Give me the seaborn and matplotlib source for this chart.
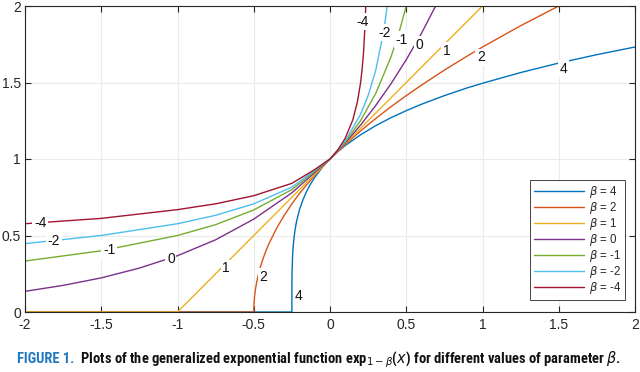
import matplotlib
matplotlib.use("Agg")
import matplotlib.pyplot as plt
from matplotlib import font_manager as fm
import numpy as np
import pandas as pd
import seaborn as sns

# ---------------- data ----------------
betas = [4, 2, 1, 0, -1, -2, -4]

x_b4 = [-2.0, -0.25, -0.25, -0.2499, -0.249, -0.245, -0.24, -0.23, -0.22, -0.2, -0.175, -0.15, -0.125,
        -0.1, -0.05, 0.0, 0.05, 0.1, 0.2, 0.3, 0.4, 0.5, 0.6, 0.75, 0.9, 1.0, 1.25, 1.5, 1.75, 2.0]
y_b4 = [0.0, 0.0, 0.0, 0.141, 0.251, 0.376, 0.447, 0.532, 0.589, 0.669, 0.740, 0.795, 0.841,
        0.880, 0.946, 1.0, 1.047, 1.088, 1.158, 1.218, 1.270, 1.316, 1.358, 1.414, 1.465, 1.495, 1.565, 1.627, 1.682, 1.732]

x_b2 = [-2.0, -0.5, -0.499, -0.495, -0.49, -0.48, -0.46, -0.44, -0.42, -0.4, -0.35, -0.3, -0.25, -0.2,
        -0.1, 0.0, 0.1, 0.2, 0.3, 0.4, 0.5, 0.6, 0.75, 0.9, 1.0, 1.25, 1.5, 1.75, 2.0]
y_b2 = [0.0, 0.0, 0.045, 0.100, 0.141, 0.200, 0.283, 0.346, 0.400, 0.447, 0.548, 0.632, 0.707, 0.775,
        0.894, 1.0, 1.095, 1.183, 1.265, 1.342, 1.414, 1.483, 1.581, 1.673, 1.732, 1.871, 2.0, 2.121, 2.236]

x_b1 = [-2.0, -1.0, 0.0, 1.0, 2.0]
y_b1 = [0.0, 0.0, 1.0, 2.0, 3.0]

x_b0 = [-2.0, -1.75, -1.5, -1.25, -1.0, -0.75, -0.5, -0.25, 0.0, 0.1, 0.2, 0.3, 0.4, 0.5, 0.6, 0.7, 0.8]
y_b0 = [0.135, 0.174, 0.223, 0.287, 0.368, 0.472, 0.607, 0.779, 1.0, 1.105, 1.221, 1.350, 1.492, 1.649, 1.822, 2.014, 2.226]

x_bm1 = [-2.0, -1.5, -1.0, -0.75, -0.5, -0.25, 0.0, 0.1, 0.2, 0.3, 0.4, 0.45, 0.5, 0.55]
y_bm1 = [0.333, 0.4, 0.5, 0.571, 0.667, 0.8, 1.0, 1.111, 1.25, 1.429, 1.667, 1.818, 2.0, 2.222]

x_bm2 = [-2.0, -1.5, -1.0, -0.75, -0.5, -0.25, 0.0, 0.1, 0.2, 0.25, 0.3, 0.35, 0.36, 0.375, 0.4]
y_bm2 = [0.447, 0.5, 0.577, 0.632, 0.707, 0.816, 1.0, 1.118, 1.291, 1.414, 1.581, 1.826, 1.890, 2.0, 2.236]

x_bm4 = [-2.0, -1.5, -1.0, -0.75, -0.5, -0.25, -0.1, 0.0, 0.05, 0.1, 0.15, 0.18, 0.2, 0.21, 0.22, 0.23, 0.235]
y_bm4 = [0.577, 0.612, 0.669, 0.707, 0.760, 0.841, 0.931, 1.0, 1.057, 1.136, 1.257, 1.375, 1.495, 1.581, 1.699, 1.880, 2.02]

x_ticks = [-2, -1.5, -1, -0.5, 0, 0.5, 1, 1.5, 2]
x_ticklabels = ["-2", "-1.5", "-1", "-0.5", "0", "0.5", "1", "1.5", "2"]
y_ticks = [0, 0.5, 1, 1.5, 2]
y_ticklabels = ["0", "0.5", "1", "1.5", "2"]

inline_labels = ["4", "2", "1", "0", "-1", "-2", "-4"]

caption_head = "FIGURE 1."
caption_body = r"  Plots of the generalized exponential function exp$_{1-\beta}$($x$) for different values of parameter $\beta$."

# ---------------- layout / style ----------------
colors = ["#0072BD", "#D95319", "#EDB120", "#7E2F8E", "#77AC30", "#4DBEEE", "#A2142F"]
label_pos_upper = [(1.53, 1.59), (0.99, 1.665), (0.765, 1.706), (0.585, 1.745), (0.47, 1.78), (0.36, 1.826), (0.214, 1.897)]
label_pos_lower = [(-0.208, 0.107), (-0.437, 0.231), (-0.682, 0.285), (-1.043, 0.346), (-1.449, 0.405), (-1.81, 0.464), (-1.90, 0.584)]

sns.set_theme(style="white")
plt.rcParams["font.family"] = ["Liberation Sans", "DejaVu Sans"]
plt.rcParams["mathtext.fontset"] = "dejavusans"

xs = [x_b4, x_b2, x_b1, x_b0, x_bm1, x_bm2, x_bm4]
ys = [y_b4, y_b2, y_b1, y_b0, y_bm1, y_bm2, y_bm4]
names = [r"$\beta$ = %d" % b for b in betas]
frames = []
for n, xx, yy in zip(names, xs, ys):
    frames.append(pd.DataFrame({"x": xx, "y": yy, "beta": n}))
df = pd.concat(frames, ignore_index=True)

fig = plt.figure(figsize=(6.4, 3.72), dpi=100)
W, H = 640, 372
ax = fig.add_axes([25 / W, 60 / H, 610 / W, 306 / H])

sns.lineplot(data=df, x="x", y="y", hue="beta", hue_order=names, palette=colors,
             estimator=None, sort=False, linewidth=1.0, ax=ax)

ax.set_xlim(-2, 2)
ax.set_ylim(0, 2)
ax.set_xticks(x_ticks)
ax.set_xticklabels(x_ticklabels)
ax.set_yticks(y_ticks)
ax.set_yticklabels(y_ticklabels)
ax.set_xlabel("")
ax.set_ylabel("")
ax.grid(True, color="#ebebeb", linewidth=0.8)
ax.set_axisbelow(True)
for s in ax.spines.values():
    s.set_color("#262626")
    s.set_linewidth(0.8)
    s.set_visible(True)
ax.tick_params(direction="in", length=4, width=0.8, colors="#262626", labelsize=10,
               top=True, right=True, bottom=True, left=True, pad=4)
ax.tick_params(axis="y", pad=3)

for lab, (px, py) in zip(inline_labels, label_pos_upper):
    ax.text(px, py, lab, ha="center", va="center", fontsize=10, color="#111111", zorder=5,
            bbox=dict(boxstyle="square,pad=0.12", fc="white", ec="none"))
for lab, (px, py) in zip(inline_labels, label_pos_lower):
    ax.text(px, py, lab, ha="center", va="center", fontsize=10, color="#111111", zorder=5,
            bbox=dict(boxstyle="square,pad=0.12", fc="white", ec="none"))

leg = ax.legend(loc="lower right", bbox_to_anchor=(0.984, 0.039), fontsize=8.3, frameon=True,
                fancybox=False, edgecolor="#262626", framealpha=1, handlelength=4.3,
                labelspacing=0.0, borderpad=0.35, handletextpad=0.45, borderaxespad=0)
leg.get_frame().set_linewidth(0.6)
leg.set_zorder(10)

# ---------------- caption ----------------
def pick_caption_font():
    cands = [("Liberation Sans Narrow", "normal"), ("Roboto Condensed", "normal"),
             ("Open Sans Condensed", "normal"), ("DejaVu Sans Condensed", "normal"),
             ("Noto Sans", "condensed"), ("Open Sans", "condensed"), ("Roboto", "condensed"),
             ("DejaVu Sans", "condensed")]
    for fam, st in cands:
        try:
            p = fm.findfont(fm.FontProperties(family=fam, stretch=st, weight="bold"),
                            fallback_to_default=False)
        except Exception:
            continue
        low = p.lower()
        if "narrow" in low or "condensed" in low or "cond" in low:
            return fam, st
    return "Liberation Sans", "normal"

cap_fam, cap_st = pick_caption_font()
x0, y0 = 17 / W, 9 / H
target = 605.0


def draw_caption(size):
    t1 = fig.text(x0, y0, caption_head, color="#1f78c1", fontsize=size, fontweight="bold",
                  family=cap_fam, fontstretch=cap_st, va="baseline")
    fig.canvas.draw()
    r = fig.canvas.get_renderer()
    bb = t1.get_window_extent(r)
    t2 = fig.text(bb.x1 / W, y0, caption_body, color="#111111", fontsize=size, fontweight="bold",
                  family=cap_fam, fontstretch=cap_st, va="baseline")
    fig.canvas.draw()
    bb2 = t2.get_window_extent(r)
    return t1, t2, bb2.x1 - bb.x0


size = 10.0
t1, t2, width = draw_caption(size)
if abs(width - target) > 3:
    t1.remove()
    t2.remove()
    size = size * target / width
    t1, t2, width = draw_caption(size)

fig.savefig("out.png", dpi=100)
